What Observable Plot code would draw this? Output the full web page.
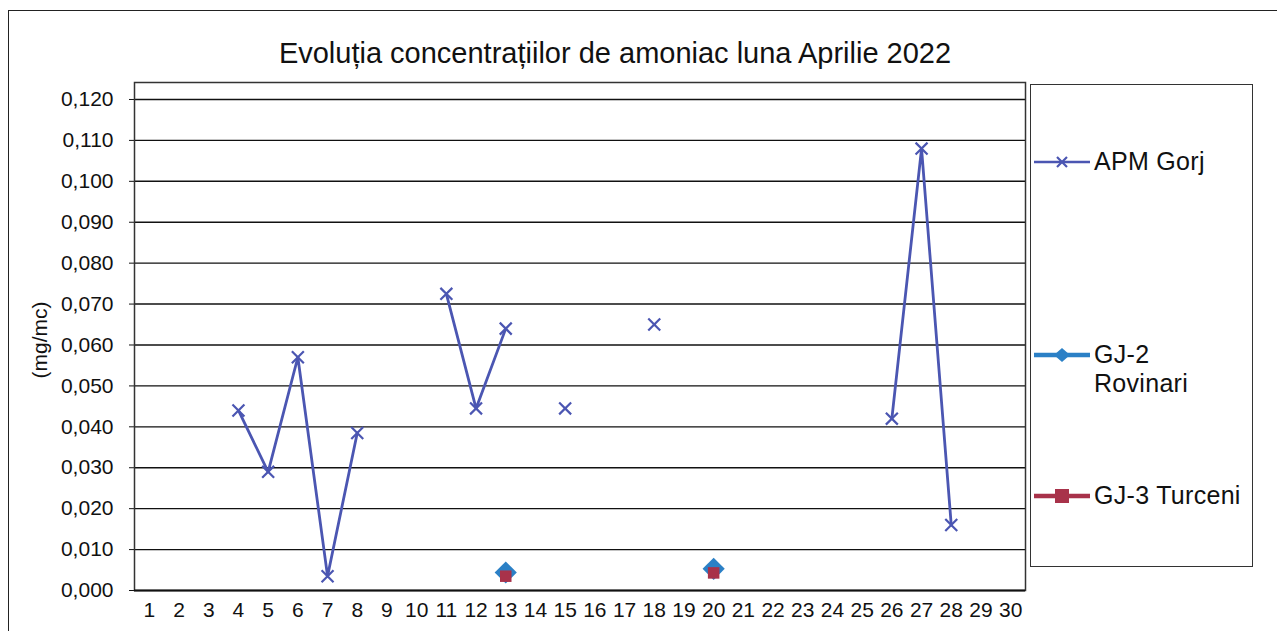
<!DOCTYPE html>
<html><head><meta charset="utf-8">
<script src="https://cdn.jsdelivr.net/npm/d3@7"></script>
<script src="https://cdn.jsdelivr.net/npm/@observablehq/plot@0.6"></script>
<style>
body{margin:0;background:#fff;font-family:"Liberation Sans",Arial,sans-serif;}
#wrap{position:relative;width:1277px;height:631px;overflow:hidden;background:#fff;}
#border{position:absolute;left:8px;top:10px;width:1300px;height:700px;border:1.5px solid #222;box-sizing:border-box;}
#title{position:absolute;left:0;width:1230px;top:37px;text-align:center;font-size:29px;color:#111;white-space:nowrap;}
#ylabel{position:absolute;left:40px;top:340px;transform:translate(-50%,-50%) rotate(-90deg);font-size:21px;color:#111;white-space:nowrap;}
#chart{position:absolute;left:0;top:0;}
#legend{position:absolute;left:1030px;top:84px;width:223px;height:483px;border:1.5px solid #333;box-sizing:border-box;background:#fff;}
.item{position:absolute;left:2px;display:flex;align-items:flex-start;font-size:25px;color:#111;line-height:29px;white-space:nowrap;}
.item svg{flex:none;}
.item .lbl{margin-left:3px;letter-spacing:0.3px;}
</style></head><body>
<div id="wrap">
 <div id="border"></div>
 <div id="title">Evoluția concentrațiilor de amoniac luna Aprilie 2022</div>
 <div id="ylabel">(mg/mc)</div>
 <div id="chart"></div>
 <div id="legend"></div>
</div>
<script>
const days = d3.range(1, 31);
const apmGorj = [null,null,null,0.044,0.029,0.057,0.0035,0.0385,null,null,0.0725,0.0445,0.064,null,0.0445,null,null,0.065,null,null,null,null,null,null,null,0.042,0.108,0.016,null,null];
const gj2Rovinari = [null,null,null,null,null,null,null,null,null,null,null,null,0.0044,null,null,null,null,null,null,0.0053,null,null,null,null,null,null,null,null,null,null];
const gj3Turceni = [null,null,null,null,null,null,null,null,null,null,null,null,0.0035,null,null,null,null,null,null,0.0043,null,null,null,null,null,null,null,null,null,null];
const yTicks = [0,0.01,0.02,0.03,0.04,0.05,0.06,0.07,0.08,0.09,0.10,0.11,0.12];
const yTickLabels = ["0,000","0,010","0,020","0,030","0,040","0,050","0,060","0,070","0,080","0,090","0,100","0,110","0,120"];
const seriesNames = ["APM Gorj","GJ-2 Rovinari","GJ-3 Turceni"];
const colors = ["#4b56b2","#2b80c6","#a8324a"];

const rows = (vals, s) => days.map((d, i) => ({day: d, value: vals[i], series: s}));
const A = rows(apmGorj, seriesNames[0]);
const B = rows(gj2Rovinari, seriesNames[1]).filter(d => d.value != null);
const C = rows(gj3Turceni, seriesNames[2]).filter(d => d.value != null);

const chart = Plot.plot({
  width: 1030, height: 631,
  marginLeft: 134, marginRight: 5, marginTop: 82, marginBottom: 41,
  style: {fontFamily: '"Liberation Sans", Arial, sans-serif', color: "#111", background: "transparent"},
  x: {domain: [0.5, 30.5], axis: null, label: null},
  y: {domain: [0, 0.12415], axis: null, label: null},
  marks: [
    Plot.ruleY(yTicks.slice(1), {stroke: "#111", strokeWidth: 1.4}),
    Plot.axisY({ticks: yTicks, label: null, tickFormat: d => yTickLabels[yTicks.indexOf(d)], tickSize: 5, tickPadding: 16, fontSize: 21, stroke: "#111"}),
    Plot.axisX({ticks: days, label: null, tickFormat: d => String(d), tickSize: 0, tickPadding: 12, fontSize: 21}),
    Plot.frame({stroke: "#333", strokeWidth: 1.5}),
    Plot.ruleY([0], {stroke: "#111", strokeWidth: 2}),
    Plot.line(A, {x: "day", y: "value", stroke: colors[0], strokeWidth: 2.8}),
    Plot.dot(A.filter(d => d.value != null), {x: "day", y: "value", symbol: "times", r: 5.5, stroke: colors[0], strokeWidth: 2.2}),
    Plot.dot(B, {x: "day", y: "value", symbol: "diamond2", r: 10, fill: colors[1], stroke: "none"}),
    Plot.dot(C, {x: "day", y: "value", symbol: "square", r: 6.5, fill: colors[2]})
  ]
});
document.getElementById("chart").appendChild(chart);

// legend
const legend = document.getElementById("legend");
const legendTops = [62, 255, 396];
const legendLabels = [["APM Gorj"], ["GJ-2", "Rovinari"], ["GJ-3 Turceni"]];
const swatch = (i) => {
  const w = 58, h = 29, cy = 15, cx = 29;
  let marker = "";
  if (i === 0) marker = `<path d="M${cx-5},${cy-5}L${cx+5},${cy+5}M${cx-5},${cy+5}L${cx+5},${cy-5}" stroke="${colors[0]}" stroke-width="2.2"/>`;
  if (i === 1) marker = `<path d="M${cx},${cy-7}L${cx+8},${cy}L${cx},${cy+7}L${cx-8},${cy}Z" fill="${colors[1]}"/>`;
  if (i === 2) marker = `<rect x="${cx-7}" y="${cy-7}" width="14" height="14" fill="${colors[2]}"/>`;
  const sw = i === 0 ? 2.6 : 4.5;
  return `<svg width="${w}" height="${h}"><line x1="1" x2="${w-1}" y1="${cy}" y2="${cy}" stroke="${colors[i]}" stroke-width="${sw}"/>${marker}</svg>`;
};
seriesNames.forEach((s, i) => {
  const div = document.createElement("div");
  div.className = "item";
  div.style.top = legendTops[i] + "px";
  div.innerHTML = swatch(i) + `<div class="lbl">${legendLabels[i].join("<br>")}</div>`;
  legend.appendChild(div);
});
</script>
</body></html>
